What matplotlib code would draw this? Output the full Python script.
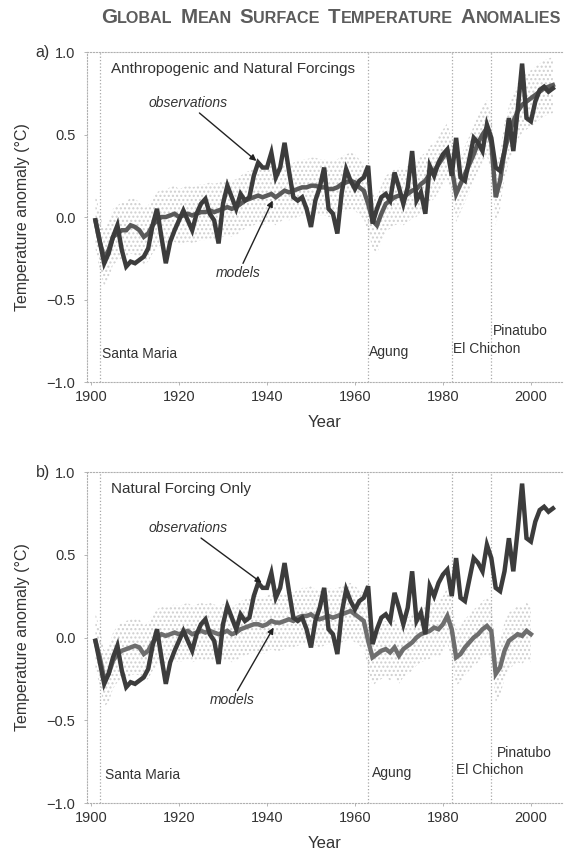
import matplotlib
matplotlib.use("Agg")
import matplotlib.pyplot as plt
import numpy as np

plt.rcParams['font.family'] = ['Liberation Sans', 'DejaVu Sans']

# Observed global mean anomaly (deg C), 1901-2005
obs_years = np.arange(1901, 2006)
obs = [-0.02, -0.15, -0.28, -0.22, -0.12, -0.05, -0.20, -0.30, -0.27, -0.28,
       -0.26, -0.24, -0.19, -0.05, 0.05, -0.12, -0.28, -0.15, -0.08, -0.02,
       0.04, -0.02, -0.08, 0.02, 0.08, 0.11, 0.02, -0.02, -0.16, 0.08,
       0.19, 0.12, 0.05, 0.14, 0.10, 0.12, 0.25, 0.33, 0.30, 0.30,
       0.39, 0.24, 0.30, 0.45, 0.28, 0.12, 0.10, 0.12, 0.05, -0.06,
       0.10, 0.18, 0.30, 0.05, 0.02, -0.10, 0.15, 0.29, 0.22, 0.17,
       0.22, 0.24, 0.31, -0.04, 0.05, 0.12, 0.14, 0.10, 0.27, 0.18,
       0.08, 0.18, 0.40, 0.10, 0.15, 0.02, 0.31, 0.25, 0.33, 0.38,
       0.41, 0.25, 0.48, 0.24, 0.22, 0.35, 0.48, 0.45, 0.40, 0.56,
       0.48, 0.30, 0.28, 0.40, 0.60, 0.40, 0.65, 0.93, 0.60, 0.58,
       0.70, 0.77, 0.79, 0.76, 0.78]

# Multi-model mean, anthropogenic + natural forcings, 1901-2005
models_a_years = np.arange(1901, 2006)
models_a = [-0.02, -0.15, -0.25, -0.20, -0.12, -0.10, -0.08, -0.08, -0.05, -0.06,
            -0.08, -0.12, -0.10, -0.05, -0.02, 0.00, 0.00, 0.01, 0.02, 0.00,
            0.01, 0.02, 0.01, 0.02, 0.03, 0.03, 0.04, 0.03, 0.04, 0.05,
            0.06, 0.05, 0.06, 0.08, 0.10, 0.11, 0.12, 0.13, 0.12, 0.13,
            0.14, 0.12, 0.14, 0.16, 0.15, 0.16, 0.17, 0.18, 0.18, 0.19,
            0.19, 0.18, 0.18, 0.17, 0.17, 0.18, 0.20, 0.21, 0.22, 0.21,
            0.18, 0.16, 0.08, -0.02, -0.05, 0.02, 0.08, 0.10, 0.12, 0.13,
            0.12, 0.14, 0.16, 0.17, 0.20, 0.22, 0.26, 0.28, 0.32, 0.36,
            0.40, 0.30, 0.14, 0.20, 0.26, 0.32, 0.38, 0.45, 0.50, 0.54,
            0.45, 0.12, 0.22, 0.40, 0.50, 0.58, 0.64, 0.68, 0.70, 0.72,
            0.74, 0.76, 0.78, 0.79, 0.80]

# Multi-model mean, natural forcings only, 1901-2000
models_b_years = np.arange(1901, 2001)
models_b = [-0.02, -0.12, -0.25, -0.22, -0.14, -0.10, -0.08, -0.07, -0.06, -0.05,
            -0.06, -0.10, -0.08, -0.03, 0.00, 0.02, 0.01, 0.02, 0.03, 0.02,
            0.03, 0.04, 0.02, 0.03, 0.04, 0.03, 0.04, 0.03, 0.02, 0.03,
            0.04, 0.02, 0.03, 0.05, 0.06, 0.07, 0.08, 0.08, 0.07, 0.08,
            0.10, 0.09, 0.09, 0.10, 0.11, 0.10, 0.12, 0.13, 0.13, 0.14,
            0.12, 0.11, 0.12, 0.13, 0.12, 0.13, 0.14, 0.15, 0.16, 0.14,
            0.12, 0.10, -0.02, -0.12, -0.10, -0.08, -0.07, -0.09, -0.06, -0.11,
            -0.07, -0.05, -0.03, 0.00, 0.02, 0.03, 0.04, 0.06, 0.05, 0.08,
            0.13, 0.05, -0.12, -0.10, -0.06, -0.03, 0.00, 0.02, 0.05, 0.07,
            0.04, -0.22, -0.18, -0.08, -0.02, 0.00, 0.02, 0.01, 0.04, 0.02]

volcano_years = [1902, 1963, 1982, 1991]
volcano_names = ["Santa Maria", "Agung", "El Chichon", "Pinatubo"]

fig = plt.figure(figsize=(5.71, 8.52), dpi=100)
ax_a = fig.add_axes([0.1517, 0.5516, 0.832, 0.3873])
ax_b = fig.add_axes([0.1517, 0.0575, 0.832, 0.3885])

text_col = '#333333'


def draw_panel(ax, m_years, m_vals, model_col, heading, letter, label_pos):
    m = np.array(m_vals)
    # stippled spread of individual simulations
    ax.fill_between(m_years, m - 0.17, m + 0.17, facecolor='none',
                    edgecolor='#cfcfcf', hatch='....', linewidth=0, zorder=1)
    for vy in volcano_years:
        ax.axvline(vy, color='#a8a8a8', ls=':', lw=0.9, zorder=1.5)
    ax.plot(m_years, m, color=model_col, lw=3.2, zorder=3,
            solid_joinstyle='miter')
    ax.plot(obs_years, obs, color='#3c3c3c', lw=3.2, zorder=4,
            solid_joinstyle='miter')

    ax.set_xlim(1899, 2007)
    ax.set_ylim(-1.0, 1.0)
    ax.set_xticks([1900, 1920, 1940, 1960, 1980, 2000])
    ax.set_yticks([1.0, 0.5, 0.0, -0.5, -1.0])
    ax.set_yticklabels(['1.0', '0.5', '0.0', '\u22120.5', '\u22121.0'])
    ax.tick_params(colors='#aaaaaa', labelcolor=text_col, labelsize=10.5,
                   length=2, width=0.6)
    ax.tick_params(axis='y', pad=6)
    for side in ['left', 'bottom', 'top']:
        ax.spines[side].set_linestyle(':')
        ax.spines[side].set_color('#b0b0b0')
        ax.spines[side].set_linewidth(0.8)
    ax.spines['right'].set_visible(False)
    ax.set_xlabel('Year', fontsize=12, color=text_col, labelpad=8)
    ax.set_ylabel('Temperature anomaly (\u00b0C)', fontsize=11.5,
                  color=text_col, labelpad=12)

    ax.text(1904.5, 0.9, heading, fontsize=11, color=text_col, va='center')
    ax.text(-0.092, 1.0, letter, transform=ax.transAxes, fontsize=11.5,
            color=text_col, va='center', ha='center')

    for name, (lx, ly) in zip(volcano_names, label_pos):
        ax.text(lx, ly, name, fontsize=10, color=text_col, va='center')


draw_panel(ax_a, models_a_years, models_a, '#5a5a5a',
           'Anthropogenic and Natural Forcings', 'a)',
           [(1902.5, -0.83), (1963.3, -0.82), (1982.3, -0.80), (1991.4, -0.69)])
draw_panel(ax_b, models_b_years, models_b, '#6e6e6e',
           'Natural Forcing Only', 'b)',
           [(1903.2, -0.83), (1963.8, -0.82), (1983.0, -0.80), (1992.2, -0.70)])

arrow = dict(arrowstyle='-|>', color='#222222', lw=1.0, mutation_scale=9,
             shrinkA=0, shrinkB=0)
ax_a.annotate('observations', xy=(1937.6, 0.34), xytext=(1922, 0.69),
              fontsize=10, style='italic', color=text_col, ha='center',
              va='center', arrowprops=arrow, zorder=6)
ax_a.annotate('models', xy=(1941.3, 0.10), xytext=(1933.5, -0.34),
              fontsize=10, style='italic', color=text_col, ha='center',
              va='center', arrowprops=arrow, zorder=6)
ax_b.annotate('observations', xy=(1938.8, 0.33), xytext=(1922, 0.66),
              fontsize=10, style='italic', color=text_col, ha='center',
              va='center', arrowprops=arrow, zorder=6)
ax_b.annotate('models', xy=(1941.5, 0.06), xytext=(1932, -0.38),
              fontsize=10, style='italic', color=text_col, ha='center',
              va='center', arrowprops=arrow, zorder=6)

# small-caps title assembled from pieces
title_words = ["Global", "Mean", "Surface", "Temperature", "Anomalies"]
renderer = fig.canvas.get_renderer()
pieces = []
for w in title_words:
    pieces.append((w[0].upper(), 14.8))
    pieces.append((w[1:].upper(), 11.6))
W, H = fig.bbox.width, fig.bbox.height
gap = 8.0
widths = []
for s, size in pieces:
    t = fig.text(0, 0, s, fontsize=size, weight='bold')
    widths.append(t.get_window_extent(renderer).width)
    t.remove()
total = sum(widths) + gap * (len(title_words) - 1)
x = 331 - total / 2
for i, ((s, size), wpx) in enumerate(zip(pieces, widths)):
    fig.text(x / W, 1 - 23 / H, s, fontsize=size, weight='bold',
             color='#5c5c5c', va='baseline', ha='left')
    x += wpx
    if i % 2 == 1:
        x += gap

fig.savefig('out.png', dpi=100)
